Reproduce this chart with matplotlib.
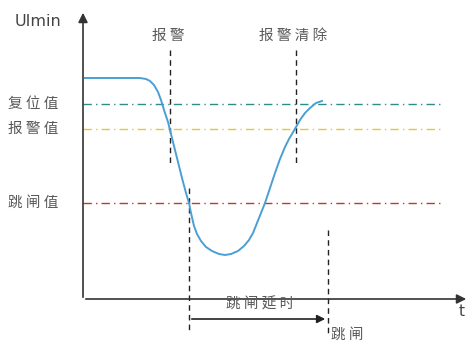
import matplotlib.pyplot as plt

plt.rcParams['font.family'] = ['Noto Sans CJK SC', 'DejaVu Sans']

# curve (pixel coordinates, y downwards)
curve_x = [85, 110, 140, 146, 150, 154, 158, 161, 164, 168, 172, 177, 182, 186, 189, 191,
           194, 197, 201, 206, 212, 219, 225, 231, 238, 244, 249, 253, 257, 261, 265, 270,
           275, 280, 285, 289, 292, 296, 300, 305, 310, 316, 322]
curve_y = [78, 78, 78, 79, 81, 85, 92, 100, 110, 122, 138, 158, 178, 193, 203, 213,
           226, 234, 241, 247, 251, 254, 255, 254, 251, 246, 240, 233, 223, 213, 203, 188,
           173, 159, 147, 139, 134, 127, 120, 113, 108, 103, 101]

levels = [104, 129, 203]
level_names = ['复 位 值', '报 警 值', '跳 闸 值']
level_colors = ['#2e8b8b', '#e8c832', '#c0392b']

events_x = [170, 296, 189, 328]
events_span = [(50, 165), (50, 165), (188, 330), (230, 335)]

fig = plt.figure(figsize=(4.69, 3.42), dpi=100)
ax = fig.add_axes([0, 0, 1, 1])
ax.set_xlim(0, 469)
ax.set_ylim(342, 0)
ax.axis('off')

txt = '#5a5a5a'
fs = 10.5

# axes with arrows
ax.annotate('', xy=(83, 10), xytext=(83, 300),
            arrowprops=dict(arrowstyle='-|>', color='#333333', lw=1.2, mutation_scale=14))
ax.annotate('', xy=(469, 299), xytext=(83, 299),
            arrowprops=dict(arrowstyle='-|>', color='#333333', lw=1.2, mutation_scale=14))
ax.text(15, 21, 'UImin', fontsize=11.5, color='#444444', va='center', family='DejaVu Sans')
ax.text(462, 311, 't', fontsize=11, color='#444444', ha='center', va='center', family='DejaVu Sans')

# threshold levels
for y, name, c in zip(levels, level_names, level_colors):
    ax.plot([83, 440], [y, y], color=c, lw=1.0, ls=(0, (6, 3, 1, 3)))
    ax.text(8, y, name, fontsize=fs, color=txt, va='center')

# event markers
for x, (y0, y1) in zip(events_x, events_span):
    ax.plot([x, x], [y0, y1], color='#222222', lw=1.0, ls=(0, (4, 3)))

ax.text(168, 36, '报 警', fontsize=fs, color=txt, ha='center', va='center')
ax.text(293, 36, '报 警 清 除', fontsize=fs, color=txt, ha='center', va='center')

# curve
ax.plot(curve_x, curve_y, color='#4a9fd4', lw=1.4)

# trip delay arrow
ax.annotate('', xy=(328, 319), xytext=(189, 319),
            arrowprops=dict(arrowstyle='-|>', color='#222222', lw=1.2, mutation_scale=12))
ax.text(260, 304, '跳 闸 延 时', fontsize=fs, color=txt, ha='center', va='center')
ax.text(331, 335, '跳 闸', fontsize=fs, color=txt, ha='left', va='center')

fig.savefig('out.png', dpi=100)
